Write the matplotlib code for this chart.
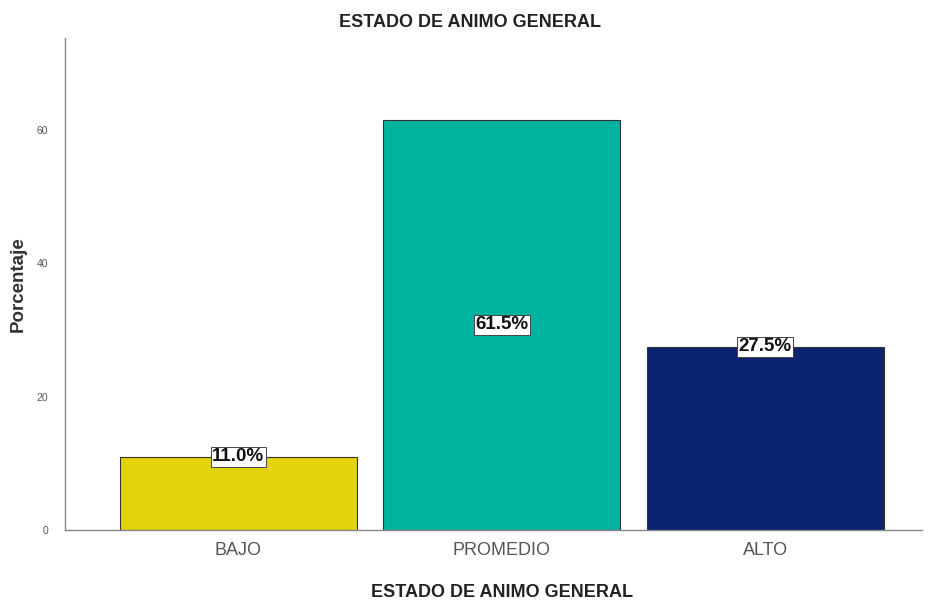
import matplotlib
matplotlib.use("Agg")
import matplotlib.pyplot as plt

plt.rcParams['font.family'] = ['Liberation Sans', 'DejaVu Sans']

# data
categorias = ["BAJO", "PROMEDIO", "ALTO"]
porcentajes = [11.0, 61.5, 27.5]
colores = ["#E2D30C", "#00B39E", "#0C2470"]
# where the label sits on the bar (1 = top, 0.5 = middle)
pos_etiqueta = [1.0, 0.5, 1.0]

fig = plt.figure(figsize=(9.34, 6.0), dpi=100)
ax = fig.add_axes([0.0696, 0.1167, 0.918, 0.82])

x = list(range(len(categorias)))
ax.bar(x, porcentajes, width=0.9, color=colores, edgecolor="#333333", linewidth=0.8)

for i in x:
    ax.text(i, porcentajes[i] * pos_etiqueta[i], "%.1f%%" % porcentajes[i],
            ha="center", va="center", fontsize=13.5, fontweight="bold", color="#111111",
            bbox=dict(boxstyle="square,pad=0.08", facecolor="white", edgecolor="#444444", linewidth=0.7))

ax.set_xlim(-0.658, 2.596)
ax.set_ylim(0, 73.8)
ax.set_yticks([0, 20, 40, 60])
ax.set_xticks(x)
ax.set_xticklabels(categorias, fontsize=13, color="#555555")
ax.tick_params(axis="y", labelsize=7.5, colors="#555555", length=0, pad=12)
ax.tick_params(axis="x", length=0, pad=9)

for s in ["top", "right"]:
    ax.spines[s].set_visible(False)
for s in ["left", "bottom"]:
    ax.spines[s].set_color("#888888")
    ax.spines[s].set_linewidth(1.0)

ax.set_ylabel("Porcentaje", fontsize=13.5, fontweight="bold", color="#333333", labelpad=7)
ax.set_xlabel("ESTADO DE ANIMO GENERAL", fontsize=13, fontweight="bold", color="#222222", labelpad=18)
ax.xaxis.label.set_x(0.51)
fig.text(0.503, 0.963, "ESTADO DE ANIMO GENERAL", ha="center", va="center",
         fontsize=13, fontweight="bold", color="#222222")

fig.savefig("out.png", dpi=100)
